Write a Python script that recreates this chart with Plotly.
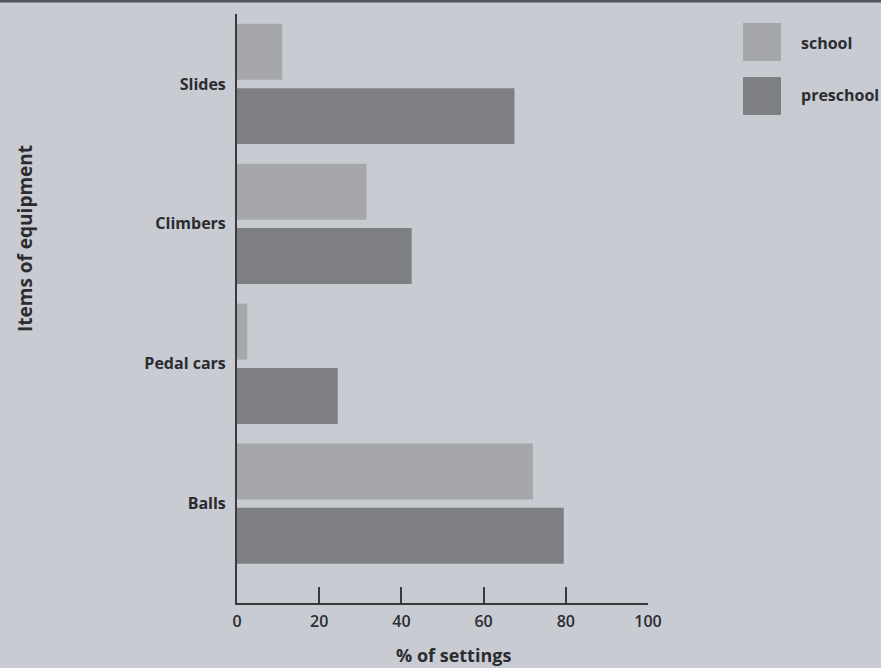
import plotly.graph_objects as go

categories = ["Balls", "Pedal cars", "Climbers", "Slides"]
school = [72, 2.5, 31.5, 11]
preschool = [79.5, 24.5, 42.5, 67.5]
x_ticks = [0, 20, 40, 60, 80, 100]

BG = "#c8cbd2"
C_SCHOOL = "#a6a7ab"
C_PRE = "#7e7f83"
TXT = "#2b2c30"
FONT = "Open Sans"

fig = go.Figure()
fig.add_trace(go.Bar(y=categories, x=school, orientation="h", name="school",
                     marker=dict(color=C_SCHOOL, line=dict(width=0)),
                     width=0.4, offset=0.03))
fig.add_trace(go.Bar(y=categories, x=preschool, orientation="h", name="preschool",
                     marker=dict(color=C_PRE, line=dict(width=0)),
                     width=0.4, offset=-0.43))

fig.update_layout(
    width=881, height=668,
    paper_bgcolor=BG, plot_bgcolor=BG,
    margin=dict(l=237, r=233, t=14, b=65),
    showlegend=False,
    barmode="overlay",
    font=dict(family=FONT, color=TXT),
)
fig.update_xaxes(range=[0, 100], tickvals=x_ticks, ticks="inside", ticklen=16,
                 tickwidth=2, tickcolor="#3a3b3f", showgrid=False, zeroline=False,
                 showline=True, linewidth=2, linecolor="#3a3b3f",
                 tickfont=dict(size=16, family=FONT, color=TXT, weight=600),
                 ticklabelstandoff=3)
fig.update_yaxes(type="category", categoryorder="array", categoryarray=categories,
                 range=[-0.71, 3.5], showgrid=False, zeroline=False,
                 showline=True, linewidth=2, linecolor="#3a3b3f", ticks="",
                 ticklabelstandoff=6,
                 tickfont=dict(size=16, family=FONT, color=TXT, weight=700))

pw = 881 - 237 - 233
ph = 668 - 14 - 65
def px_x(p):
    return (p - 237) / pw
def px_y(p):
    return (603 - p) / ph

# axis titles
fig.add_annotation(text="<b>% of settings</b>", xref="paper", yref="paper",
                   x=px_x(453), y=px_y(655),
                   showarrow=False, font=dict(size=18, family=FONT, color=TXT),
                   xanchor="center", yanchor="middle")
fig.add_annotation(text="<b>Items of equipment</b>", xref="paper", yref="paper",
                   x=px_x(25), y=px_y(238),
                   textangle=-90, showarrow=False,
                   font=dict(size=19, family=FONT, color=TXT),
                   xanchor="center", yanchor="middle")

# legend drawn as swatches + labels
legend_items = [("school", C_SCHOOL, 23, 61, 43), ("preschool", C_PRE, 77, 115, 95)]
for name, col, y0, y1, yt in legend_items:
    fig.add_shape(type="rect", xref="paper", yref="paper",
                  x0=px_x(743), x1=px_x(781), y0=px_y(y1), y1=px_y(y0),
                  fillcolor=col, line=dict(width=0))
    fig.add_annotation(text="<b>" + name + "</b>", xref="paper", yref="paper",
                       x=px_x(799), y=px_y(yt), showarrow=False,
                       xanchor="left", yanchor="middle",
                       font=dict(size=16, family=FONT, color=TXT))

# top border line of the scanned page
fig.add_shape(type="line", xref="paper", yref="paper",
              x0=px_x(0), x1=px_x(881), y0=px_y(1), y1=px_y(1),
              line=dict(color="#55565b", width=3))

fig.write_html("out.html", config={"displayModeBar": False},
               post_script="document.body.style.margin='0';document.body.style.overflow='hidden';")
